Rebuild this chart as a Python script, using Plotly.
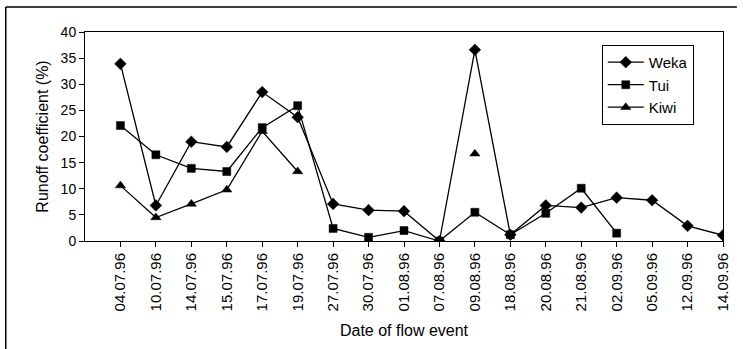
import plotly.graph_objects as go

# Flow event dates (categorical x-axis)
dates = ["04.07.96", "10.07.96", "14.07.96", "15.07.96", "17.07.96", "19.07.96",
         "27.07.96", "30.07.96", "01.08.96", "07.08.96", "09.08.96", "18.08.96",
         "20.08.96", "21.08.96", "02.09.96", "05.09.96", "12.09.96", "14.09.96"]

# Runoff coefficients (%) per catchment
weka = [33.9, 6.8, 19.0, 18.0, 28.5, 23.7, 7.1, 5.9, 5.7, 0.0, 36.6, 1.2,
        6.8, 6.4, 8.3, 7.8, 2.9, 1.1]
tui = [22.1, 16.5, 13.9, 13.3, 21.7, 25.9, 2.4, 0.7, 2.0, 0.0, 5.5, 1.2,
       5.3, 10.1, 1.5, None, None, None]
kiwi = [10.6, 4.5, 7.1, 9.8, 21.0, 13.3, None, None, None, None, 16.7, None,
        None, None, None, None, None, None]

y_ticks = [0, 5, 10, 15, 20, 25, 30, 35, 40]

FONT = "Liberation Sans, Arial, sans-serif"

fig = go.Figure()
series = [("Weka", weka, "diamond", 9), ("Tui", tui, "square", 8),
          ("Kiwi", kiwi, "triangle-up", 9)]
for name, vals, sym, size in series:
    fig.add_trace(go.Scatter(
        x=dates, y=vals, name=name, mode="lines+markers",
        connectgaps=False,
        line=dict(color="black", width=1.3),
        marker=dict(symbol=sym, size=size, color="black",
                    line=dict(color="black", width=0.5)),
    ))

fig.update_layout(
    width=743, height=349,
    margin=dict(l=85, r=14, t=32, b=108),
    paper_bgcolor="white", plot_bgcolor="white",
    font=dict(family=FONT, color="black", size=13),
    showlegend=True,
    legend=dict(x=0.81, y=0.938, xanchor="left", yanchor="top",
                bgcolor="white", bordercolor="black", borderwidth=1,
                font=dict(size=15, family=FONT), tracegroupgap=0,
                itemwidth=36),
    xaxis=dict(type="category", categoryorder="array", categoryarray=dates,
               range=[-1, 17], tickangle=-90, showgrid=False,
               showline=True, linecolor="black", linewidth=1, mirror=True,
               ticks="outside", ticklen=5, tickcolor="black",
               tickfont=dict(size=15),
               title=dict(text="Date of flow event", font=dict(size=16),
                          standoff=14)),
    yaxis=dict(range=[0, 40], tickvals=y_ticks, showgrid=False, zeroline=False,
               showline=True, linecolor="black", linewidth=1, mirror=True,
               ticks="outside", ticklen=5, tickcolor="black",
               tickfont=dict(size=14),
               title=dict(text="Runoff coefficient (%)", font=dict(size=16),
                          standoff=8)),
    shapes=[
        dict(type="line", xref="paper", yref="paper",
             x0=(5 - 85) / 644, x1=(5 - 85) / 644, y0=(241 - 7) / 209, y1=(241 - 349) / 209,
             line=dict(color="black", width=1.5)),
        dict(type="line", xref="paper", yref="paper",
             x0=(5 - 85) / 644, x1=(743 - 85) / 644, y0=(241 - 7) / 209, y1=(241 - 7) / 209,
             line=dict(color="black", width=1.5)),
    ],
)

fig.write_html("out.html")
